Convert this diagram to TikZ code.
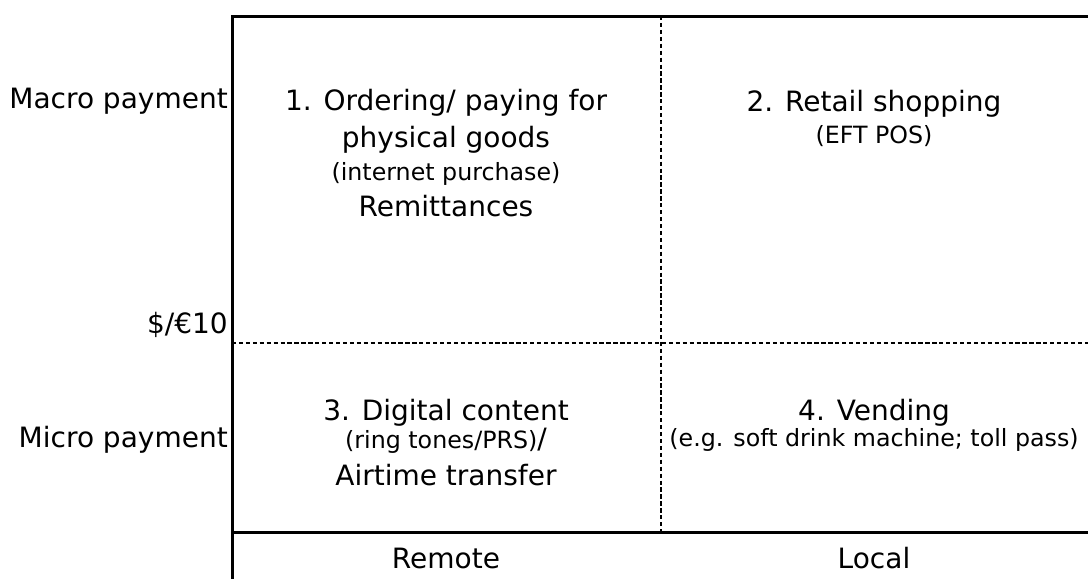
\documentclass[tikz,border=0pt]{standalone}
\usepackage{fontspec}
\setmainfont{DejaVu Sans}
\usetikzlibrary{positioning}

\begin{document}
\begin{tikzpicture}[x=0.75pt,y=-0.75pt,
    axisline/.style={line width=2.25pt},
    splitline/.style={line width=2pt, dash pattern=on 3.2pt off 2pt},
    bigtext/.style={font=\fontsize{21}{25}\selectfont, inner sep=0pt, anchor=base},
    smalltext/.style={font=\fontsize{17.8}{21}\selectfont, inner sep=0pt, anchor=base}]

    \useasboundingbox (0,0) rectangle (1088,579);

    % Frame corners
    \coordinate (topleft) at (232,16);
    \coordinate (topright) at (1088,16);
    \coordinate (foot) at (232,579);
    \coordinate (botleft) at (232,532);
    \coordinate (botright) at (1088,532);
    \coordinate (topmid) at (661,16);
    \coordinate (botmid) at (661,532);
    \coordinate (midleft) at (232,343);
    \coordinate (midright) at (1088,343);

    \draw[axisline] (topright) -- (topleft) -- (foot);
    \draw[axisline] (botleft) -- (botright);
    \draw[splitline] (topmid) -- (botmid);
    \draw[splitline] (midleft) -- (midright);

    %-------------
    % Axis labels
    \node[bigtext, anchor=base east] (macro) at (228,108) {Macro payment};
    \node[bigtext, anchor=base east] (limit) at (228,333) {\$/€10};
    \node[bigtext, anchor=base east] (micro) at (228,447) {Micro payment};

    \node[bigtext] (remote) at (446,568) {Remote};
    \node[bigtext] (local) at (874,568) {Local};

    %-------------
    % First row
    \node[bigtext] (orderA) at (446,110) {1. Ordering/ paying for};
    \node[bigtext] (orderB) at (446,147) {physical goods};
    \node[smalltext] (orderC) at (446,180) {(internet purchase)};
    \node[bigtext] (orderD) at (446,216) {Remittances};

    \node[bigtext] (retailA) at (874,111) {2. Retail shopping};
    \node[smalltext] (retailB) at (874,143) {(EFT POS)};

    %-------------
    % Second row
    \node[bigtext] (digitalA) at (446,420) {3. Digital content};
    \node[smalltext] (digitalB) at (446,448) {(ring tones/PRS){\fontsize{21}{25}\selectfont/}};
    \node[bigtext] (digitalC) at (446,485) {Airtime transfer};

    \node[bigtext] (vendA) at (874,420) {4. Vending};
    \node[smalltext] (vendB) at (874,446) {(e.g. soft drink machine; toll pass)};

\end{tikzpicture}
\end{document}
